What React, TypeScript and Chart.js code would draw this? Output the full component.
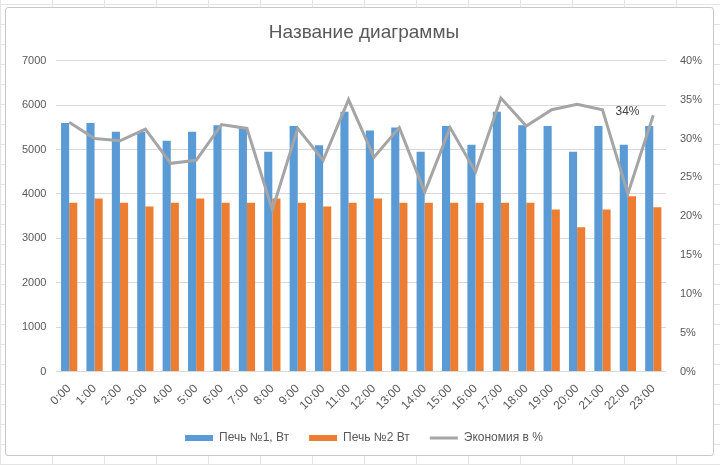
import React, { useEffect, useRef } from "react";
import { Chart, registerables } from "chart.js";

Chart.register(...registerables);

const hours: string[] = [
  "0:00", "1:00", "2:00", "3:00", "4:00", "5:00", "6:00", "7:00", "8:00", "9:00", "10:00", "11:00",
  "12:00", "13:00", "14:00", "15:00", "16:00", "17:00", "18:00", "19:00", "20:00", "21:00", "22:00", "23:00",
];

const oven1: number[] = [
  5600, 5600, 5400, 5400, 5200, 5400, 5550, 5500, 4950, 5530, 5100, 5850,
  5430, 5500, 4950, 5530, 5110, 5850, 5550, 5530, 4950, 5530, 5110, 5530,
];

const oven2: number[] = [
  3800, 3900, 3800, 3720, 3800, 3900, 3800, 3800, 3900, 3800, 3720, 3800,
  3900, 3800, 3800, 3800, 3800, 3800, 3800, 3650, 3250, 3650, 3950, 3700,
];

const savings: number[] = [
  32.1, 30.0, 29.7, 31.2, 26.8, 27.2, 31.8, 31.3, 20.8, 31.3, 27.2, 35.0,
  27.6, 31.4, 23.1, 31.4, 25.7, 35.2, 31.6, 33.7, 34.4, 33.7, 22.9, 33.0,
];

const leftTicks = { min: 0, max: 7000, step: 1000 };
const rightTicks = { min: 0, max: 40, step: 5 };
const labelIndex = 21;

const seriesNames = ["Печь №1, Вт", "Печь №2 Вт", "Экономия в %"];

const FONT = "'Liberation Sans', Arial, sans-serif";
const TEXT = "#595959";

const pointLabelPlugin = {
  id: "pointLabel",
  afterDatasetsDraw(chart: any) {
    const meta = chart.getDatasetMeta(2);
    const pt = meta.data[labelIndex];
    if (!pt) return;
    const ctx = chart.ctx;
    ctx.save();
    ctx.font = `12px ${FONT}`;
    ctx.fillStyle = "#404040";
    ctx.textAlign = "center";
    ctx.textBaseline = "middle";
    ctx.fillText(Math.round(savings[labelIndex]) + "%", pt.x + 25, pt.y + 2);
    ctx.restore();
  },
};

const legendShiftPlugin = {
  id: "legendShift",
  afterLayout(chart: any) {
    const lg = chart.legend;
    if (lg) {
      lg.top -= 11;
      lg.bottom -= 11;
    }
  },
};

export default function App() {
  const ref = useRef<HTMLCanvasElement | null>(null);

  useEffect(() => {
    if (!ref.current) return;
    const chart = new Chart(ref.current, {
      type: "bar",
      data: {
        labels: hours,
        datasets: [
          {
            type: "bar",
            label: seriesNames[0],
            data: oven1,
            backgroundColor: "#5B9BD5",
            yAxisID: "y",
            order: 2,
            categoryPercentage: 0.64,
            barPercentage: 1.0,
          },
          {
            type: "bar",
            label: seriesNames[1],
            data: oven2,
            backgroundColor: "#ED7D31",
            yAxisID: "y",
            order: 2,
            categoryPercentage: 0.64,
            barPercentage: 1.0,
          },
          {
            type: "line",
            label: seriesNames[2],
            data: savings,
            borderColor: "#A5A5A5",
            backgroundColor: "#A5A5A5",
            borderWidth: 3,
            pointRadius: 0,
            tension: 0,
            yAxisID: "y1",
            order: 0,
          } as any,
        ],
      },
      options: {
        animation: false,
        responsive: false,
        maintainAspectRatio: false,
        layout: { padding: { left: 12, right: 4, top: 21, bottom: 0 } },
        plugins: {
          title: {
            display: true,
            text: "Название диаграммы",
            color: TEXT,
            font: { family: FONT, size: 19, weight: "normal" },
            padding: { top: 0, bottom: 17 },
          },
          legend: {
            position: "bottom",
            labels: {
              color: TEXT,
              font: { family: FONT, size: 12 },
              usePointStyle: true,
              pointStyleWidth: 28,
              boxHeight: 6,
              padding: 20,
              sort: (a: any, b: any) => a.datasetIndex - b.datasetIndex,
              generateLabels: (c: any) =>
                (Chart.defaults.plugins.legend.labels as any).generateLabels(c).map((l: any) => ({
                  ...l,
                  pointStyle: l.datasetIndex === 2 ? "line" : "rect",
                  lineWidth: l.datasetIndex === 2 ? 3 : 0,
                  strokeStyle: l.datasetIndex === 2 ? "#A5A5A5" : l.fillStyle,
                })),
            },
          },
          tooltip: { enabled: false },
        },
        scales: {
          x: {
            grid: { display: false, drawTicks: false },
            border: { display: true, color: "#D9D9D9" },
            ticks: {
              color: TEXT,
              font: { family: FONT, size: 12 },
              minRotation: 45,
              maxRotation: 45,
              padding: 10,
              autoSkip: false,
            },
            afterFit: (s: any) => {
              s.paddingLeft = 0;
              s.paddingRight = 0;
            },
          },
          y: {
            position: "left",
            min: leftTicks.min,
            max: leftTicks.max,
            grid: { color: "#D9D9D9", drawTicks: false },
            border: { display: false },
            ticks: {
              stepSize: leftTicks.step,
              color: TEXT,
              font: { family: FONT, size: 11 },
              padding: 10,
              callback: (v: any) => String(v),
            },
          },
          y1: {
            position: "right",
            min: rightTicks.min,
            max: rightTicks.max,
            grid: { drawOnChartArea: false, drawTicks: false },
            border: { display: false },
            ticks: {
              stepSize: rightTicks.step,
              color: TEXT,
              font: { family: FONT, size: 11 },
              padding: 14,
              callback: (v: any) => v + "%",
            },
          },
        },
      },
      plugins: [pointLabelPlugin, legendShiftPlugin],
    });
    return () => chart.destroy();
  }, []);

  return (
    <div
      style={{
        position: "absolute",
        left: 0,
        top: 0,
        width: 720,
        height: 465,
        background:
          "repeating-linear-gradient(90deg, #e4e4e4 0 1px, transparent 1px 52px), repeating-linear-gradient(0deg, #e4e4e4 0 1px, transparent 1px 20px), #ffffff",
        overflow: "hidden",
      }}
    >
      <div
        style={{
          position: "absolute",
          left: 5,
          top: 7,
          width: 707,
          height: 447,
          background: "#ffffff",
          border: "1px solid #c8c8c8",
          borderRadius: 3,
        }}
      />
      <canvas
        ref={ref}
        width={720}
        height={465}
        style={{ position: "absolute", left: 0, top: 0, width: 720, height: 465 }}
      />
    </div>
  );
}
